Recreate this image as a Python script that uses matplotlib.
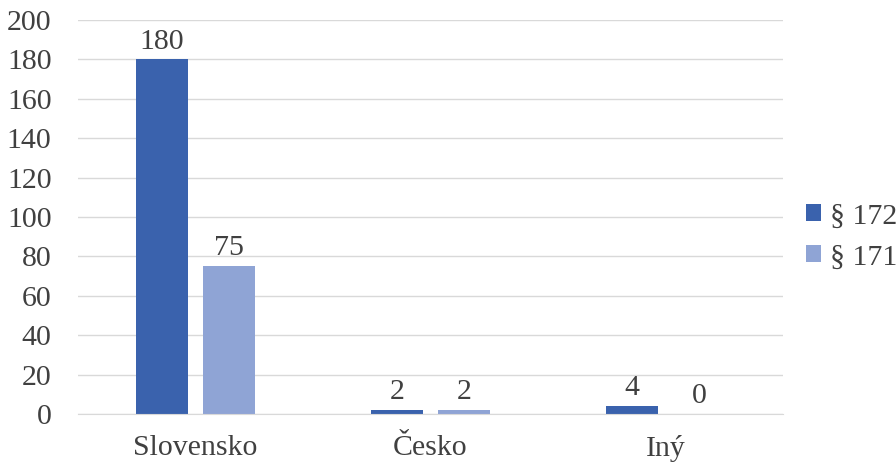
import matplotlib
matplotlib.use("Agg")
import matplotlib.pyplot as plt
import numpy as np

categories = ["Slovensko", "Česko", "Iný"]
series_names = ["§ 172", "§ 171"]
values_172 = [180, 2, 4]
values_171 = [75, 2, 0]
yticks = list(range(0, 201, 20))

colors = ["#3A62AD", "#8FA4D5"]
text_color = "#404040"
fs = 21.5

plt.rcParams["font.family"] = ["Liberation Serif", "DejaVu Serif"]

fig = plt.figure(figsize=(8.96, 4.67), dpi=100)
ax = fig.add_axes([0.087, 0.1135, 0.787, 0.8435])

x = np.arange(len(categories))
width = 0.221
offset = 0.143

bars = []
for vals, off, col, name in zip([values_172, values_171], [-offset, offset], colors, series_names):
    b = ax.bar(x + off, vals, width, color=col, label=name, zorder=3)
    bars.append(b)
    for xi, v in zip(x + off, vals):
        ax.text(xi, v + 2.5, f"{v}", ha="center", va="bottom", fontsize=fs, color=text_color)

ax.set_xlim(-0.5, 2.5)
ax.set_ylim(0, 200)
ax.set_yticks(yticks)
ax.set_xticks(x)
ax.set_xticklabels(categories)
ax.tick_params(axis="both", length=0, labelsize=fs, colors=text_color)
ax.tick_params(axis="x", pad=15)
ax.tick_params(axis="y", pad=19)
ax.grid(axis="y", color="#D9D9D9", linewidth=1, zorder=0)
for side in ["top", "right", "left"]:
    ax.spines[side].set_visible(False)
ax.spines["bottom"].set_color("#D9D9D9")
ax.spines["bottom"].set_zorder(4)

leg = fig.legend(handles=bars, labels=series_names, loc="center left",
                 bbox_to_anchor=(0.9, 0.4925), frameon=False, fontsize=fs,
                 borderpad=0, borderaxespad=0,
                 handlelength=0.5, handleheight=0.5, handletextpad=0.3,
                 labelspacing=0.5, labelcolor=text_color)

fig.savefig("out.png", dpi=100)
